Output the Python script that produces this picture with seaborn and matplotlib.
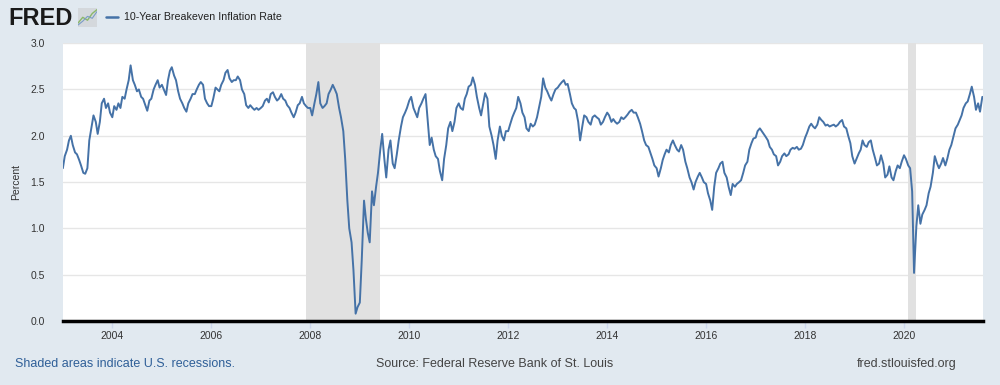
import matplotlib.pyplot as plt
import matplotlib.lines as mlines
import pandas as pd
import seaborn as sns

# semi-monthly readings (1st and 15th of each month), percent
rate_2003 = [1.65, 1.78, 1.85, 1.95, 2.00, 1.90, 1.82, 1.80, 1.74, 1.68, 1.60, 1.59,
             1.65, 1.95, 2.10, 2.22, 2.15, 2.02, 2.15, 2.35, 2.40, 2.30, 2.35, 2.25]
rate_2004 = [2.20, 2.32, 2.28, 2.35, 2.30, 2.42, 2.40, 2.50, 2.60, 2.76, 2.60, 2.55,
             2.48, 2.50, 2.42, 2.40, 2.33, 2.27, 2.38, 2.40, 2.50, 2.55, 2.60, 2.52]
rate_2005 = [2.55, 2.50, 2.44, 2.60, 2.70, 2.74, 2.65, 2.60, 2.48, 2.40, 2.35, 2.30,
             2.26, 2.35, 2.40, 2.45, 2.45, 2.50, 2.55, 2.58, 2.55, 2.40, 2.35, 2.32]
rate_2006 = [2.32, 2.40, 2.52, 2.50, 2.48, 2.55, 2.60, 2.68, 2.71, 2.62, 2.58, 2.60,
             2.60, 2.64, 2.60, 2.50, 2.45, 2.33, 2.30, 2.33, 2.30, 2.28, 2.30, 2.28]
rate_2007 = [2.30, 2.32, 2.38, 2.40, 2.36, 2.45, 2.47, 2.42, 2.38, 2.40, 2.45, 2.40,
             2.38, 2.33, 2.30, 2.25, 2.20, 2.25, 2.33, 2.35, 2.42, 2.35, 2.32, 2.30]
rate_2008 = [2.30, 2.22, 2.35, 2.45, 2.58, 2.35, 2.30, 2.32, 2.35, 2.45, 2.50, 2.55,
             2.50, 2.45, 2.30, 2.20, 2.05, 1.75, 1.30, 1.00, 0.85, 0.55, 0.08, 0.15]
rate_2009 = [0.20, 0.65, 1.30, 1.10, 0.95, 0.85, 1.40, 1.25, 1.45, 1.60, 1.85, 2.02,
             1.75, 1.55, 1.85, 1.95, 1.70, 1.65, 1.80, 1.95, 2.10, 2.20, 2.25, 2.30]
rate_2010 = [2.38, 2.42, 2.30, 2.25, 2.20, 2.30, 2.35, 2.40, 2.45, 2.20, 1.90, 1.98,
             1.85, 1.78, 1.75, 1.62, 1.52, 1.75, 1.90, 2.08, 2.15, 2.05, 2.15, 2.30]
rate_2011 = [2.35, 2.30, 2.28, 2.40, 2.45, 2.53, 2.55, 2.63, 2.55, 2.42, 2.30, 2.22,
             2.35, 2.46, 2.40, 2.10, 2.00, 1.90, 1.75, 1.95, 2.10, 2.00, 1.95, 2.05]
rate_2012 = [2.05, 2.12, 2.20, 2.25, 2.30, 2.42, 2.35, 2.25, 2.20, 2.08, 2.05, 2.13,
             2.10, 2.12, 2.20, 2.30, 2.42, 2.62, 2.52, 2.48, 2.42, 2.38, 2.45, 2.50]
rate_2013 = [2.52, 2.55, 2.58, 2.60, 2.55, 2.56, 2.45, 2.35, 2.30, 2.28, 2.15, 1.95,
             2.10, 2.22, 2.20, 2.15, 2.12, 2.20, 2.22, 2.20, 2.18, 2.12, 2.15, 2.20]
rate_2014 = [2.25, 2.22, 2.15, 2.18, 2.15, 2.13, 2.15, 2.20, 2.18, 2.20, 2.23, 2.26,
             2.28, 2.25, 2.25, 2.20, 2.13, 2.05, 1.95, 1.90, 1.88, 1.82, 1.75, 1.68]
rate_2015 = [1.65, 1.56, 1.65, 1.74, 1.80, 1.85, 1.82, 1.90, 1.95, 1.90, 1.85, 1.83,
             1.90, 1.85, 1.72, 1.65, 1.55, 1.50, 1.42, 1.50, 1.56, 1.60, 1.55, 1.50]
rate_2016 = [1.48, 1.38, 1.30, 1.20, 1.45, 1.60, 1.65, 1.70, 1.72, 1.60, 1.55, 1.45,
             1.36, 1.48, 1.45, 1.48, 1.50, 1.52, 1.60, 1.68, 1.72, 1.85, 1.92, 1.97]
rate_2017 = [1.98, 2.05, 2.08, 2.05, 2.02, 1.99, 1.95, 1.88, 1.85, 1.80, 1.78, 1.68,
             1.72, 1.78, 1.81, 1.78, 1.80, 1.85, 1.87, 1.86, 1.88, 1.85, 1.86, 1.90]
rate_2018 = [1.98, 2.03, 2.10, 2.13, 2.10, 2.08, 2.12, 2.20, 2.17, 2.15, 2.11, 2.12,
             2.10, 2.11, 2.12, 2.10, 2.12, 2.15, 2.17, 2.10, 2.08, 2.00, 1.92, 1.78]
rate_2019 = [1.70, 1.75, 1.81, 1.85, 1.95, 1.90, 1.88, 1.93, 1.95, 1.85, 1.76, 1.68,
             1.70, 1.79, 1.70, 1.55, 1.58, 1.67, 1.55, 1.52, 1.62, 1.68, 1.65, 1.72]
rate_2020 = [1.79, 1.75, 1.68, 1.65, 1.40, 0.52, 1.02, 1.25, 1.05, 1.15, 1.20, 1.25,
             1.38, 1.45, 1.60, 1.78, 1.70, 1.65, 1.70, 1.76, 1.68, 1.75, 1.85, 1.90]
rate_2021 = [2.00, 2.08, 2.12, 2.17, 2.22, 2.30, 2.35, 2.37, 2.45, 2.53, 2.42, 2.28,
             2.35, 2.26, 2.42]

recession_start = ['2007-12-01', '2020-02-01']
recession_end = ['2009-06-01', '2020-04-01']
year_ticks = ['2004', '2006', '2008', '2010', '2012', '2014', '2016', '2018', '2020']
pct_ticks = [0.0, 0.5, 1.0, 1.5, 2.0, 2.5, 3.0]

values = (rate_2003 + rate_2004 + rate_2005 + rate_2006 + rate_2007 + rate_2008
          + rate_2009 + rate_2010 + rate_2011 + rate_2012 + rate_2013 + rate_2014
          + rate_2015 + rate_2016 + rate_2017 + rate_2018 + rate_2019 + rate_2020
          + rate_2021)
df = pd.DataFrame({'date': pd.date_range('2003-01-01', periods=len(values), freq='SMS'),
                   'rate': values})

sns.set_theme(style='white')
plt.rcParams['font.family'] = ['Liberation Sans', 'DejaVu Sans']

bg = '#e1e9f0'
fig = plt.figure(figsize=(10, 3.85), dpi=100, facecolor=bg)
ax = fig.add_axes([0.063, 0.166, 0.92, 0.722])
ax.set_facecolor('white')
ax.set_axisbelow(True)

for s, e in zip(recession_start, recession_end):
    ax.axvspan(pd.Timestamp(s), pd.Timestamp(e), color='#e1e1e1', lw=0, zorder=1)

sns.lineplot(data=df, x='date', y='rate', color='#4572a7', lw=1.4, ax=ax, zorder=3)

ax.set_xlim(pd.Timestamp('2003-01-02'), pd.Timestamp('2021-08-06'))
ax.set_ylim(0, 3)
ax.set_yticks(pct_ticks)
ax.set_yticklabels([f'{v:.1f}' for v in pct_ticks])
ax.set_xticks([pd.Timestamp(y + '-01-01') for y in year_ticks])
ax.set_xticklabels(year_ticks)
ax.yaxis.grid(True, color='#e6e6e6', lw=1)
ax.xaxis.grid(False)
ax.set_xlabel('')
ax.set_ylabel('')

for side in ['top', 'left', 'right']:
    ax.spines[side].set_visible(False)
ax.spines['bottom'].set_color('black')
ax.spines['bottom'].set_linewidth(2.5)
ax.spines['bottom'].set_zorder(4)

ax.tick_params(axis='y', length=0, labelsize=7.5, labelcolor='#333333', pad=13)
ax.tick_params(axis='x', length=5, width=1, color='#ccd6eb', labelsize=7.5,
               labelcolor='#333333', pad=2, direction='out', bottom=True)

fig.text(0.016, 0.527, 'Percent', rotation=90, ha='center', va='center',
         fontsize=7.5, color='#333333')

# header: FRED logo, small icon, legend
fig.text(0.008, 0.953, 'FRED', fontsize=17, fontweight='bold', color='#1a1a1a',
         ha='left', va='center')
icon = fig.add_axes([0.078, 0.93, 0.019, 0.05])
icon.plot([0, 1, 2, 3, 4], [0.2, 0.5, 0.35, 0.7, 0.9], color='#8ab86a', lw=1)
icon.plot([0, 1, 2, 3, 4], [0.1, 0.3, 0.55, 0.45, 0.8], color='#7a9cc6', lw=0.8)
icon.set_xlim(0, 4)
icon.set_ylim(0, 1)
icon.set_facecolor('#d4d8dc')
icon.set_xticks([])
icon.set_yticks([])
for sp in icon.spines.values():
    sp.set_visible(False)
fig.add_artist(mlines.Line2D([0.106, 0.118], [0.955, 0.955], color='#4572a7', lw=1.8))
fig.text(0.124, 0.955, '10-Year Breakeven Inflation Rate', fontsize=7.7, color='#222222',
         ha='left', va='center')

# footer
fig.text(0.015, 0.055, 'Shaded areas indicate U.S. recessions.', fontsize=9,
         color='#2f5f98', ha='left', va='center')
fig.text(0.495, 0.055, 'Source: Federal Reserve Bank of St. Louis', fontsize=9,
         color='#444444', ha='center', va='center')
fig.text(0.957, 0.055, 'fred.stlouisfed.org', fontsize=9, color='#444444',
         ha='right', va='center')

fig.savefig('out.png', dpi=100, facecolor=bg)
